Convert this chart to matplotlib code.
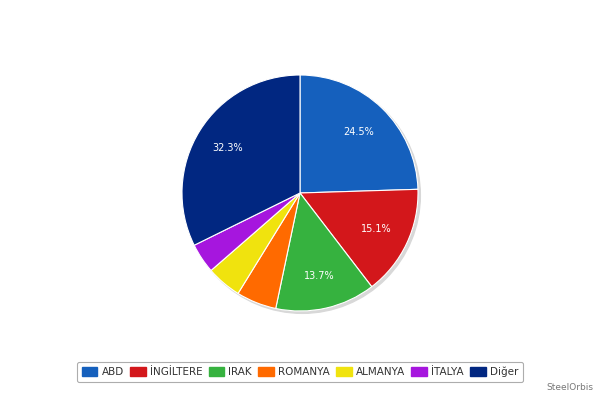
import numpy as np
import matplotlib.pyplot as plt
from matplotlib.patches import Circle

labels = ['ABD', 'İNGİLTERE', 'IRAK', 'ROMANYA', 'ALMANYA', 'İTALYA', 'Diğer']
values = [24.5, 15.1, 13.7, 5.5, 4.8, 4.1, 32.3]
colors = ['#1560bd', '#d3171b', '#36b23f', '#ff6a00', '#f0e30e', '#a616de', '#012781']
shown = [True, True, True, False, False, False, True]

fig = plt.figure(figsize=(6, 3.97), dpi=100)

# pie area: center ~(300,193) px, radius ~118 px
r_px = 118
ax = fig.add_axes([(300 - r_px) / 600, (397 - 193 - r_px) / 397, 2 * r_px / 600, 2 * r_px / 397])

# soft shadow behind the pie
sh = Circle((0.02, -0.02), 1.0, color='#d8d8d8', zorder=0)
sh.set_clip_on(False)
ax.add_patch(sh)

wedges, _ = ax.pie(values, colors=colors, startangle=90, counterclock=False,
                   radius=1, wedgeprops=dict(edgecolor='white', linewidth=0.8))
for w in wedges:
    w.set_clip_on(False)

# percentage labels for the bigger slices
ang = 90
for v, s in zip(values, shown):
    mid = ang - v * 3.6 / 2
    ang -= v * 3.6
    if s:
        x = 0.72 * np.cos(np.radians(mid))
        y = 0.72 * np.sin(np.radians(mid))
        ax.text(x, y, f'{v:.1f}%', color='white', fontsize=7, ha='center', va='center')

ax.set_xlim(-1, 1)
ax.set_ylim(-1, 1)
ax.set_aspect('equal')
ax.axis('off')

handles = [plt.Rectangle((0, 0), 1, 1, facecolor=c, edgecolor=c) for c in colors]
leg = fig.legend(handles, labels, loc='center', bbox_to_anchor=(0.5, (397 - 372) / 397),
                 ncol=7, fontsize=7.5, frameon=True, fancybox=True,
                 handlelength=1.5, handleheight=0.9, handletextpad=0.4, columnspacing=0.6,
                 borderpad=0.45, labelcolor='#333333')
leg.get_frame().set_edgecolor('#999999')
leg.get_frame().set_linewidth(0.8)

fig.text(570 / 600, (397 - 388) / 397, 'SteelOrbis', fontsize=6.5, color='#777777',
         ha='center', va='center')

fig.savefig('out.png', dpi=100)
